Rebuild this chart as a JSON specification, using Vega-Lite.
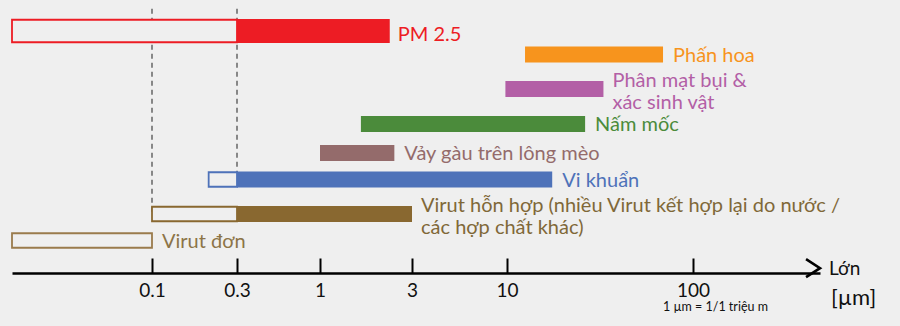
{
  "$schema": "https://vega.github.io/schema/vega-lite/v6.json",
  "width": 900,
  "height": 273,
  "autosize": "none",
  "padding": {"left": 0, "top": 0, "right": 0, "bottom": 53},
  "background": "#efefef",
  "config": {"view": {"stroke": null}, "font": "Lato"},
  "datasets": {
    "bars": [
      {"name": "PM 2.5", "row": 1, "x": 0.015, "x2": 0.3, "part": "extended"},
      {"name": "PM 2.5", "row": 1, "x": 0.3, "x2": 2.3, "part": "core"},
      {"name": "Phấn hoa", "row": 2, "x": 12.5, "x2": 69, "part": "core"},
      {"name": "Phân mạt bụi", "row": 3, "x": 9.8, "x2": 33, "part": "core"},
      {"name": "Nấm mốc", "row": 4, "x": 1.63, "x2": 26.3, "part": "core"},
      {"name": "Vảy gàu", "row": 5, "x": 1.0, "x2": 2.43, "part": "core"},
      {"name": "Vi khuẩn", "row": 6, "x": 0.208, "x2": 0.3, "part": "extended"},
      {"name": "Vi khuẩn", "row": 6, "x": 0.3, "x2": 17.5, "part": "core"},
      {"name": "Virut hỗn hợp", "row": 7, "x": 0.1, "x2": 0.3, "part": "extended"},
      {"name": "Virut hỗn hợp", "row": 7, "x": 0.3, "x2": 3.0, "part": "core"},
      {"name": "Virut đơn", "row": 8, "x": 0.015, "x2": 0.1, "part": "extended"}
    ],
    "labels": [
      {"name": "PM 2.5", "row": 1, "x": 2.3, "label": "PM 2.5", "lines": 1},
      {"name": "Phấn hoa", "row": 2, "x": 69, "label": "Phấn hoa", "lines": 1},
      {"name": "Phân mạt bụi", "row": 3, "x": 33, "label": "Phân mạt bụi &\nxác sinh vật", "lines": 2},
      {"name": "Nấm mốc", "row": 4, "x": 26.3, "label": "Nấm mốc", "lines": 1},
      {"name": "Vảy gàu", "row": 5, "x": 2.43, "label": "Vảy gàu trên lông mèo", "lines": 1},
      {"name": "Vi khuẩn", "row": 6, "x": 17.5, "label": "Vi khuẩn", "lines": 1},
      {"name": "Virut hỗn hợp", "row": 7, "x": 3.0, "label": "Virut hỗn hợp (nhiều Virut kết hợp lại do nước /\ncác hợp chất khác)", "lines": 2},
      {"name": "Virut đơn", "row": 8, "x": 0.1, "label": "Virut đơn", "lines": 1}
    ],
    "rules": [
      {"x": 0.1, "row": 0, "row2": 7},
      {"x": 0.3, "row": 0, "row2": 6}
    ],
    "axisEnd": [
      {"x": 470, "row": 9, "title": "Lớn", "unit": "[µm]"}
    ],
    "note": [
      {"x": 100, "row": 9, "text": "1 µm = 1/1 triệu m"}
    ]
  },
  "encoding": {
    "x": {
      "field": "x",
      "type": "quantitative",
      "scale": {
        "type": "log",
        "domain": [0.015, 0.1, 0.3, 1, 3, 10, 100, 470],
        "range": [12, 152, 237, 320, 412, 507, 693, 820],
        "nice": false
      },
      "axis": {
        "values": [0.1, 0.3, 1, 3, 10, 100],
        "format": "~g",
        "title": null,
        "grid": false,
        "domainColor": "#000000",
        "domainWidth": 2.5,
        "tickColor": "#000000",
        "tickWidth": 2,
        "tickSize": -15,
        "labelFontSize": 19,
        "labelFont": "Lato",
        "labelColor": "#111111",
        "labelPadding": 23,
        "labelFlush": false,
        "labelOverlap": false
      }
    },
    "y": {
      "field": "row",
      "type": "quantitative",
      "scale": {
        "domain": [0, 1, 2, 3, 4, 5, 6, 7, 8, 9],
        "range": [5, 31, 54.5, 89, 124, 153, 179.5, 214, 240.5, 273],
        "zero": false,
        "nice": false
      },
      "axis": null
    }
  },
  "layer": [
    {
      "data": {"name": "rules"},
      "mark": {"type": "rule", "stroke": "#666666", "strokeWidth": 1.5, "strokeDash": [5, 4]},
      "encoding": {"y2": {"field": "row2"}}
    },
    {
      "data": {"name": "bars"},
      "transform": [{"filter": "datum.part === 'extended'"}],
      "mark": {"type": "bar", "fill": "#efefef", "strokeWidth": 1.8},
      "encoding": {
        "x2": {"field": "x2"},
        "size": {"condition": {"test": "datum.name === 'PM 2.5'", "value": 22.5}, "value": 14.5},
        "stroke": {
          "field": "name",
          "type": "nominal",
          "legend": null,
          "scale": {
            "domain": ["PM 2.5", "Phấn hoa", "Phân mạt bụi", "Nấm mốc", "Vảy gàu", "Vi khuẩn", "Virut hỗn hợp", "Virut đơn"],
            "range": ["#ed1c24", "#f7941d", "#b35fa6", "#4b8b3b", "#946b6b", "#4e72b9", "#896830", "#9a7b4c"]
          }
        }
      }
    },
    {
      "data": {"name": "bars"},
      "transform": [{"filter": "datum.part === 'core'"}],
      "mark": {"type": "bar"},
      "encoding": {
        "x2": {"field": "x2"},
        "size": {"condition": {"test": "datum.name === 'PM 2.5'", "value": 24}, "value": 16},
        "fill": {
          "field": "name",
          "type": "nominal",
          "legend": null,
          "scale": {
            "domain": ["PM 2.5", "Phấn hoa", "Phân mạt bụi", "Nấm mốc", "Vảy gàu", "Vi khuẩn", "Virut hỗn hợp", "Virut đơn"],
            "range": ["#ed1c24", "#f7941d", "#b35fa6", "#4b8b3b", "#946b6b", "#4e72b9", "#896830", "#9a7b4c"]
          }
        }
      }
    },
    {
      "data": {"name": "labels"},
      "transform": [{"filter": "datum.lines === 1 && datum.name !== 'PM 2.5'"}],
      "mark": {"type": "text", "align": "left", "baseline": "middle", "dx": 10, "dy": 1, "fontSize": 20, "font": "Lato", "lineBreak": "\n"},
      "encoding": {
        "text": {"field": "label", "type": "nominal"},
        "color": {
          "field": "name",
          "type": "nominal",
          "legend": null,
          "scale": {
            "domain": ["PM 2.5", "Phấn hoa", "Phân mạt bụi", "Nấm mốc", "Vảy gàu", "Vi khuẩn", "Virut hỗn hợp", "Virut đơn"],
            "range": ["#ed1c24", "#f7941d", "#b35fa6", "#4b8b3b", "#946b6b", "#4e72b9", "#806838", "#8c7447"]
          }
        }
      }
    },
    {
      "data": {"name": "labels"},
      "transform": [{"filter": "datum.name === 'PM 2.5'"}],
      "mark": {"type": "text", "align": "left", "baseline": "middle", "dx": 8, "dy": 4, "fontSize": 20, "font": "Lato", "color": "#ed1c24"},
      "encoding": {"text": {"field": "label", "type": "nominal"}}
    },
    {
      "data": {"name": "labels"},
      "transform": [{"filter": "datum.lines === 2"}],
      "mark": {"type": "text", "align": "left", "baseline": "middle", "dx": 9, "dy": -8, "fontSize": 20, "font": "Lato", "lineHeight": 21.5, "lineBreak": "\n"},
      "encoding": {
        "text": {"field": "label", "type": "nominal"},
        "color": {
          "field": "name",
          "type": "nominal",
          "legend": null,
          "scale": {
            "domain": ["PM 2.5", "Phấn hoa", "Phân mạt bụi", "Nấm mốc", "Vảy gàu", "Vi khuẩn", "Virut hỗn hợp", "Virut đơn"],
            "range": ["#ed1c24", "#f7941d", "#b35fa6", "#4b8b3b", "#946b6b", "#4e72b9", "#806838", "#8c7447"]
          }
        }
      }
    },
    {
      "data": {"name": "axisEnd"},
      "mark": {"type": "point", "shape": "M-1.55,-1L0,0L-1.55,1", "size": 324, "filled": false, "stroke": "#000000", "strokeWidth": 2.6, "opacity": 1, "strokeJoin": "miter"}
    },
    {
      "data": {"name": "axisEnd"},
      "mark": {"type": "text", "align": "left", "baseline": "middle", "dx": 9, "dy": 1, "fontSize": 19, "font": "Lato", "color": "#111111"},
      "encoding": {"text": {"field": "title", "type": "nominal"}}
    },
    {
      "data": {"name": "axisEnd"},
      "mark": {"type": "text", "align": "left", "baseline": "alphabetic", "dx": 11, "dy": 37, "fontSize": 22, "font": "Lato", "color": "#111111"},
      "encoding": {"text": {"field": "unit", "type": "nominal"}}
    },
    {
      "data": {"name": "note"},
      "mark": {"type": "text", "align": "left", "baseline": "alphabetic", "dx": -30, "dy": 43, "fontSize": 12.5, "font": "Lato", "color": "#111111"},
      "encoding": {"text": {"field": "text", "type": "nominal"}}
    }
  ]
}
